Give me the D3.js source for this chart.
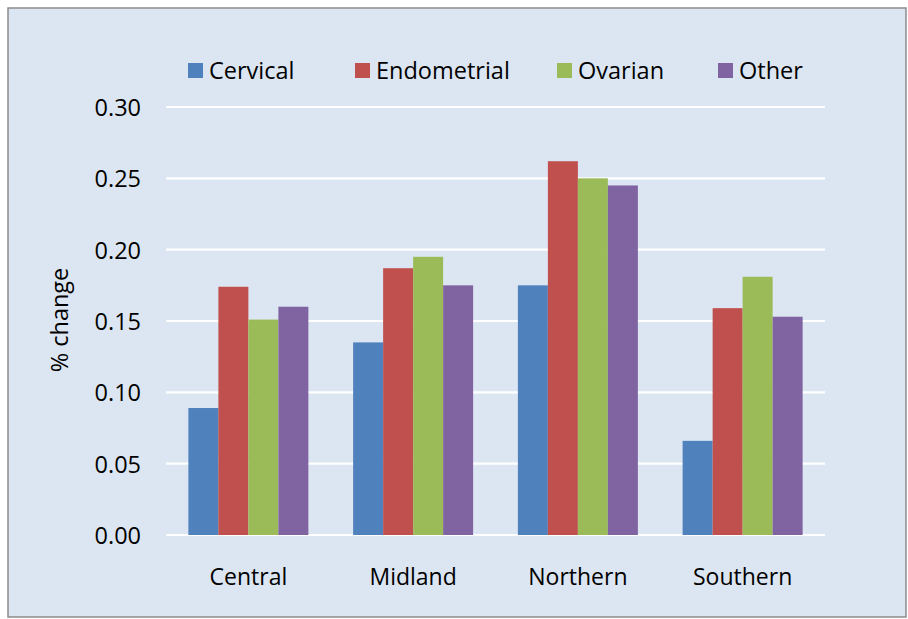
<!DOCTYPE html>
<html>
<head>
<meta charset="utf-8">
<script src="https://cdn.jsdelivr.net/npm/d3@7"></script>
<style>
  html, body { margin: 0; padding: 0; background: #ffffff; }
  svg { display: block; }
  text { font-family: "Open Sans", "Noto Sans", sans-serif; fill: #000; }
</style>
</head>
<body>
<svg id="chart" width="908" height="619"></svg>
<script>
// Regions and cancer types
const regions = ["Central", "Midland", "Northern", "Southern"];
const seriesNames = ["Cervical", "Endometrial", "Ovarian", "Other"];
const seriesColors = ["#4F81BD", "#C0504D", "#9BBB59", "#8064A2"];

// % change per region, one array per cancer type
const cervical    = [0.089, 0.135, 0.175, 0.066];
const endometrial = [0.174, 0.187, 0.262, 0.159];
const ovarian     = [0.151, 0.195, 0.250, 0.181];
const other       = [0.160, 0.175, 0.245, 0.153];
const seriesValues = [cervical, endometrial, ovarian, other];

const yTicks = [0, 0.05, 0.10, 0.15, 0.20, 0.25, 0.30];
const yTitle = "% change";

const FONT = "'Open Sans', 'Noto Sans', sans-serif";
const svg = d3.select("#chart");
const W = 908, H = 619;

// panel background and frame
svg.append("rect")
  .attr("x", 8).attr("y", 8).attr("width", W - 10).attr("height", H - 10)
  .attr("fill", "#DCE6F2").attr("stroke", "#8C8C8C").attr("stroke-width", 1.5);

const plot = { left: 166, right: 825, top: 107, bottom: 535 };

const x0 = d3.scaleBand().domain(regions)
  .range([plot.left, plot.right]).paddingInner(0.2716).paddingOuter(0.1358);
const x1 = d3.scaleBand().domain(seriesNames).range([0, x0.bandwidth()]);
const y = d3.scaleLinear().domain([0, 0.30]).range([plot.bottom, plot.top]);

// gridlines
svg.append("g").selectAll("line").data(yTicks).join("line")
  .attr("x1", plot.left).attr("x2", plot.right)
  .attr("y1", d => y(d)).attr("y2", d => y(d))
  .attr("stroke", "#ffffff").attr("stroke-width", 2.2);

// y axis labels
const yAxis = d3.axisLeft(y).tickValues(yTicks).tickFormat(d3.format(".2f")).tickSize(0).tickPadding(0);
const yg = svg.append("g").attr("transform", `translate(${plot.left - 25},0)`).call(yAxis);
yg.select(".domain").remove();
yg.attr("font-size", null).attr("font-family", null);
yg.selectAll("text").style("font-size", "23.5px").style("font-family", FONT).attr("fill", "#000").attr("dy", "0.36em");

// y title
svg.append("text")
  .attr("transform", `translate(68,${(plot.top + plot.bottom) / 2 - 1}) rotate(-90)`)
  .attr("text-anchor", "middle").style("font-size", "23.5px").text(yTitle);

// bars
const groups = svg.append("g").selectAll("g").data(regions).join("g")
  .attr("transform", d => `translate(${x0(d)},0)`);
groups.selectAll("rect")
  .data((r, ri) => seriesNames.map((s, si) => ({ s, si, v: seriesValues[si][ri] })))
  .join("rect")
  .attr("x", d => x1(d.s)).attr("width", x1.bandwidth())
  .attr("y", d => y(d.v)).attr("height", d => y(0) - y(d.v))
  .attr("fill", d => seriesColors[d.si]);

// x labels
const xAxis = d3.axisBottom(x0).tickSize(0).tickPadding(0);
const xg = svg.append("g").attr("transform", `translate(0,${plot.bottom + 42})`).call(xAxis);
xg.select(".domain").remove();
xg.attr("font-size", null).attr("font-family", null);
xg.selectAll("text").style("font-size", "23px").style("font-family", FONT).attr("fill", "#000").attr("dy", "0.36em");

// legend
const legendX = [188, 355, 557, 718];
const leg = svg.append("g").selectAll("g").data(seriesNames).join("g")
  .attr("transform", (d, i) => `translate(${legendX[i]},63)`);
leg.append("rect").attr("width", 15).attr("height", 15).attr("fill", (d, i) => seriesColors[i]);
leg.append("text").attr("x", 21).attr("y", 7.5).attr("dy", "0.36em")
  .style("font-size", "23.5px").text(d => d);
</script>
</body>
</html>
